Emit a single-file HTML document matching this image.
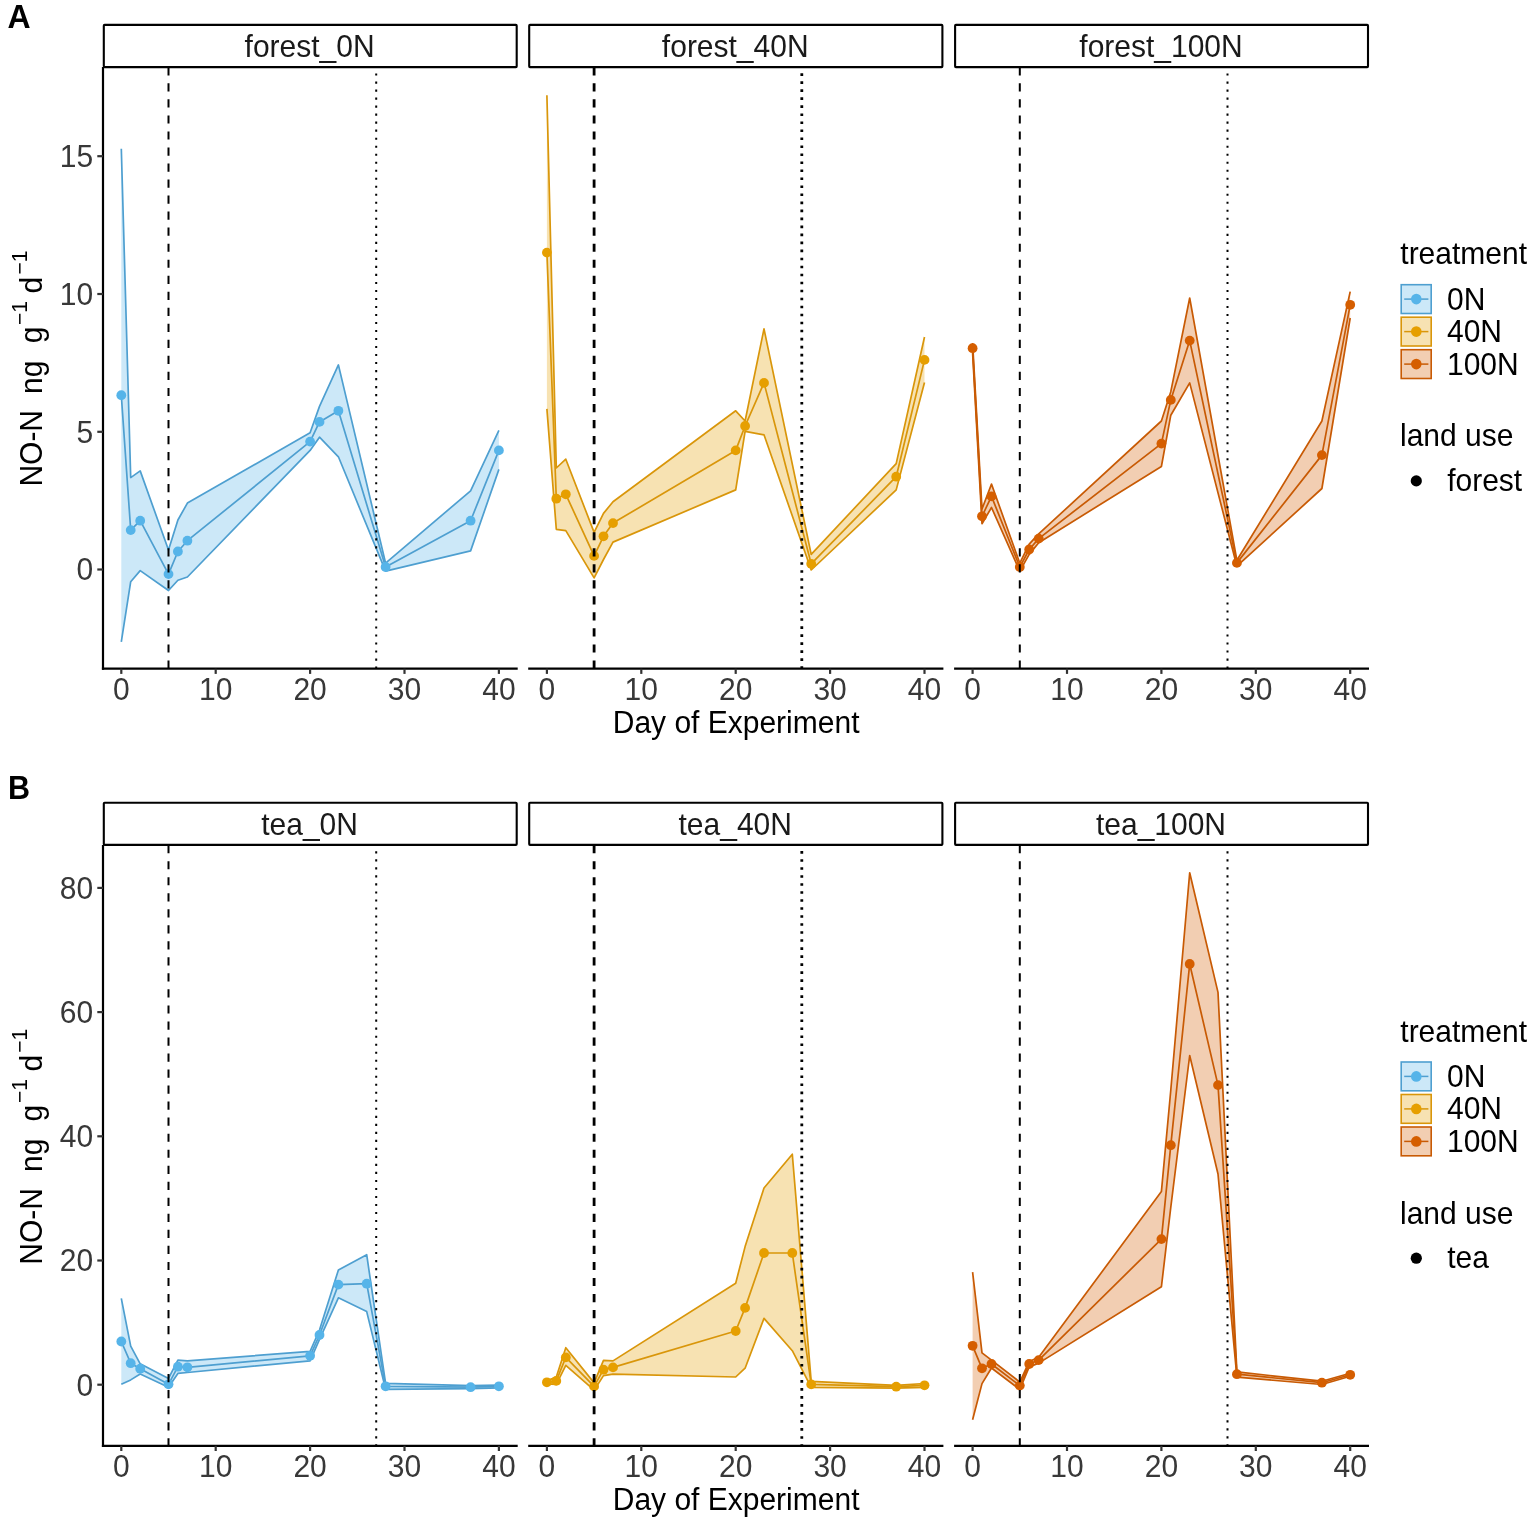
<!DOCTYPE html>
<html lang="en"><head><meta charset="utf-8"><title>NO-N flux by land use and treatment</title>
<style>html,body{margin:0;padding:0;background:#fff;overflow:hidden}svg{display:block}text{font-family:"Liberation Sans",Arial,Helvetica,sans-serif;font-size:30px}</style>
</head><body>
<svg width="1535" height="1527" viewBox="0 0 1535 1527">
<rect width="1535" height="1527" fill="#fff"/>
<text transform="translate(7.5 27.8) scale(1 1.035)" style="font-size:32px" font-weight="bold" fill="#000">A</text>
<text transform="translate(7.9 798.6) scale(1 1.07)" style="font-size:30.5px" font-weight="bold" fill="#000">B</text>
<polygon points="121.3,148.8 130.7,477.6 140.2,470.9 168.5,550 177.9,520 187.4,503.1 310.1,432.8 319.5,406.4 338.4,364.9 385.6,563.2 470.6,490.8 498.9,430.4 498.9,469.4 470.6,550.9 385.6,571.1 338.4,456.8 319.5,437.2 310.1,450.4 187.4,577 177.9,580.2 168.5,590.5 140.2,570.6 130.7,581.7 121.3,641.8" fill="#56B4E9" fill-opacity="0.3" stroke="none"/>
<polyline points="121.3,148.8 130.7,477.6 140.2,470.9 168.5,550 177.9,520 187.4,503.1 310.1,432.8 319.5,406.4 338.4,364.9 385.6,563.2 470.6,490.8 498.9,430.4" fill="none" stroke="#4E9FD0" stroke-width="1.7" stroke-linejoin="round"/>
<polyline points="121.3,641.8 130.7,581.7 140.2,570.6 168.5,590.5 177.9,580.2 187.4,577 310.1,450.4 319.5,437.2 338.4,456.8 385.6,571.1 470.6,550.9 498.9,469.4" fill="none" stroke="#4E9FD0" stroke-width="1.7" stroke-linejoin="round"/>
<polyline points="121.3,395.2 130.7,530.1 140.2,520.7 168.5,574.1 177.9,551.5 187.4,540.7 310.1,441.6 319.5,421.9 338.4,410.8 385.6,567 470.6,520.7 498.9,450.4" fill="none" stroke="#4E9FD0" stroke-width="1.7" stroke-linejoin="round"/>
<circle cx="121.3" cy="395.2" r="4.9" fill="#56B4E9"/>
<circle cx="130.7" cy="530.1" r="4.9" fill="#56B4E9"/>
<circle cx="140.2" cy="520.7" r="4.9" fill="#56B4E9"/>
<circle cx="168.5" cy="574.1" r="4.9" fill="#56B4E9"/>
<circle cx="177.9" cy="551.5" r="4.9" fill="#56B4E9"/>
<circle cx="187.4" cy="540.7" r="4.9" fill="#56B4E9"/>
<circle cx="310.1" cy="441.6" r="4.9" fill="#56B4E9"/>
<circle cx="319.5" cy="421.9" r="4.9" fill="#56B4E9"/>
<circle cx="338.4" cy="410.8" r="4.9" fill="#56B4E9"/>
<circle cx="385.6" cy="567" r="4.9" fill="#56B4E9"/>
<circle cx="470.6" cy="520.7" r="4.9" fill="#56B4E9"/>
<circle cx="498.9" cy="450.4" r="4.9" fill="#56B4E9"/>
<polygon points="546.9,95.2 556.3,468 565.8,459.2 594.1,532.4 603.5,513.4 613,501.7 735.7,410.8 745.1,421 764,328.8 811.2,554.4 896.2,463.6 924.5,337 924.5,382.5 896.2,489.9 811.2,570 764,434.8 745.1,431.3 735.7,489.9 613,542.1 603.5,559.5 594.1,577.9 565.8,530.6 556.3,529.3 546.9,408.9" fill="#E69F00" fill-opacity="0.3" stroke="none"/>
<polyline points="546.9,95.2 556.3,468 565.8,459.2 594.1,532.4 603.5,513.4 613,501.7 735.7,410.8 745.1,421 764,328.8 811.2,554.4 896.2,463.6 924.5,337" fill="none" stroke="#D9960A" stroke-width="1.7" stroke-linejoin="round"/>
<polyline points="546.9,408.9 556.3,529.3 565.8,530.6 594.1,577.9 603.5,559.5 613,542.1 735.7,489.9 745.1,431.3 764,434.8 811.2,570 896.2,489.9 924.5,382.5" fill="none" stroke="#D9960A" stroke-width="1.7" stroke-linejoin="round"/>
<polyline points="546.9,252.6 556.3,498.7 565.8,494.3 594.1,555.9 603.5,536.3 613,523.1 735.7,450.4 745.1,426 764,382.9 811.2,563.8 896.2,476.7 924.5,359.9" fill="none" stroke="#D9960A" stroke-width="1.7" stroke-linejoin="round"/>
<circle cx="546.9" cy="252.6" r="4.9" fill="#E69F00"/>
<circle cx="556.3" cy="498.7" r="4.9" fill="#E69F00"/>
<circle cx="565.8" cy="494.3" r="4.9" fill="#E69F00"/>
<circle cx="594.1" cy="555.9" r="4.9" fill="#E69F00"/>
<circle cx="603.5" cy="536.3" r="4.9" fill="#E69F00"/>
<circle cx="613" cy="523.1" r="4.9" fill="#E69F00"/>
<circle cx="735.7" cy="450.4" r="4.9" fill="#E69F00"/>
<circle cx="745.1" cy="426" r="4.9" fill="#E69F00"/>
<circle cx="764" cy="382.9" r="4.9" fill="#E69F00"/>
<circle cx="811.2" cy="563.8" r="4.9" fill="#E69F00"/>
<circle cx="896.2" cy="476.7" r="4.9" fill="#E69F00"/>
<circle cx="924.5" cy="359.9" r="4.9" fill="#E69F00"/>
<polygon points="972.6,343 982,509 991.5,484.1 1019.8,563.2 1029.2,544.2 1038.7,533.9 1161.4,421 1170.8,391.7 1189.7,298 1236.9,560.3 1321.9,421 1350.2,291.6 1350.2,318 1321.9,488.5 1236.9,566.2 1189.7,382.9 1170.8,415.2 1161.4,466.5 1038.7,542.7 1029.2,554.4 1019.8,571.1 991.5,507.5 982,523.7 972.6,353" fill="#D55E00" fill-opacity="0.3" stroke="none"/>
<polyline points="972.6,343 982,509 991.5,484.1 1019.8,563.2 1029.2,544.2 1038.7,533.9 1161.4,421 1170.8,391.7 1189.7,298 1236.9,560.3 1321.9,421 1350.2,291.6" fill="none" stroke="#C85A04" stroke-width="1.7" stroke-linejoin="round"/>
<polyline points="972.6,353 982,523.7 991.5,507.5 1019.8,571.1 1029.2,554.4 1038.7,542.7 1161.4,466.5 1170.8,415.2 1189.7,382.9 1236.9,566.2 1321.9,488.5 1350.2,318" fill="none" stroke="#C85A04" stroke-width="1.7" stroke-linejoin="round"/>
<polyline points="972.6,348.2 982,516.3 991.5,496.4 1019.8,567 1029.2,549.5 1038.7,538.6 1161.4,443.6 1170.8,399.9 1189.7,340.6 1236.9,562.9 1321.9,455.1 1350.2,304.8" fill="none" stroke="#C85A04" stroke-width="1.7" stroke-linejoin="round"/>
<circle cx="972.6" cy="348.2" r="4.9" fill="#D55E00"/>
<circle cx="982" cy="516.3" r="4.9" fill="#D55E00"/>
<circle cx="991.5" cy="496.4" r="4.9" fill="#D55E00"/>
<circle cx="1019.8" cy="567" r="4.9" fill="#D55E00"/>
<circle cx="1029.2" cy="549.5" r="4.9" fill="#D55E00"/>
<circle cx="1038.7" cy="538.6" r="4.9" fill="#D55E00"/>
<circle cx="1161.4" cy="443.6" r="4.9" fill="#D55E00"/>
<circle cx="1170.8" cy="399.9" r="4.9" fill="#D55E00"/>
<circle cx="1189.7" cy="340.6" r="4.9" fill="#D55E00"/>
<circle cx="1236.9" cy="562.9" r="4.9" fill="#D55E00"/>
<circle cx="1321.9" cy="455.1" r="4.9" fill="#D55E00"/>
<circle cx="1350.2" cy="304.8" r="4.9" fill="#D55E00"/>
<line x1="168.5" y1="67.3" x2="168.5" y2="668.7" stroke="#000" stroke-width="2" stroke-dasharray="8.2 7.83"/>
<line x1="376.2" y1="65.5" x2="376.2" y2="668.7" stroke="#000" stroke-width="2" stroke-dasharray="2.1 5.914"/>
<line x1="594.1" y1="67.3" x2="594.1" y2="668.7" stroke="#000" stroke-width="2.8" stroke-dasharray="8.2 7.83"/>
<line x1="801.8" y1="65.3" x2="801.8" y2="668.7" stroke="#000" stroke-width="2.8" stroke-dasharray="2.6 5.414"/>
<line x1="1019.8" y1="67.3" x2="1019.8" y2="668.7" stroke="#000" stroke-width="2" stroke-dasharray="8.2 7.83"/>
<line x1="1227.5" y1="65.5" x2="1227.5" y2="668.7" stroke="#000" stroke-width="2" stroke-dasharray="2.1 5.914"/>
<rect x="103.8" y="24.9" width="412.9" height="42.2" fill="#fff" stroke="#000" stroke-width="2.1" rx="0.8"/>
<text transform="translate(309.6 56.6) scale(1 1.03)" text-anchor="middle" fill="#1a1a1a">forest_0N</text>
<rect x="529.2" y="24.9" width="413.2" height="42.2" fill="#fff" stroke="#000" stroke-width="2.1" rx="0.8"/>
<text transform="translate(735.2 56.6) scale(1 1.03)" text-anchor="middle" fill="#1a1a1a">forest_40N</text>
<rect x="955.1" y="24.9" width="412.9" height="42.2" fill="#fff" stroke="#000" stroke-width="2.1" rx="0.8"/>
<text transform="translate(1161 56.6) scale(1 1.03)" text-anchor="middle" fill="#1a1a1a">forest_100N</text>
<line x1="103" y1="67.1" x2="103" y2="669.8" stroke="#000" stroke-width="2.2"/>
<line x1="101.9" y1="668.7" x2="517.7" y2="668.7" stroke="#000" stroke-width="2.2"/>
<line x1="121.3" y1="668.7" x2="121.3" y2="673.9" stroke="#333" stroke-width="2.2"/>
<text transform="translate(121.3 699.6) scale(1 1.05)" text-anchor="middle" fill="#383838">0</text>
<line x1="215.7" y1="668.7" x2="215.7" y2="673.9" stroke="#333" stroke-width="2.2"/>
<text transform="translate(215.7 699.6) scale(1 1.05)" text-anchor="middle" fill="#383838">10</text>
<line x1="310.1" y1="668.7" x2="310.1" y2="673.9" stroke="#333" stroke-width="2.2"/>
<text transform="translate(310.1 699.6) scale(1 1.05)" text-anchor="middle" fill="#383838">20</text>
<line x1="404.5" y1="668.7" x2="404.5" y2="673.9" stroke="#333" stroke-width="2.2"/>
<text transform="translate(404.5 699.6) scale(1 1.05)" text-anchor="middle" fill="#383838">30</text>
<line x1="498.9" y1="668.7" x2="498.9" y2="673.9" stroke="#333" stroke-width="2.2"/>
<text transform="translate(498.9 699.6) scale(1 1.05)" text-anchor="middle" fill="#383838">40</text>
<line x1="528.2" y1="668.7" x2="943.4" y2="668.7" stroke="#000" stroke-width="2.2"/>
<line x1="546.9" y1="668.7" x2="546.9" y2="673.9" stroke="#333" stroke-width="2.2"/>
<text transform="translate(546.9 699.6) scale(1 1.05)" text-anchor="middle" fill="#383838">0</text>
<line x1="641.3" y1="668.7" x2="641.3" y2="673.9" stroke="#333" stroke-width="2.2"/>
<text transform="translate(641.3 699.6) scale(1 1.05)" text-anchor="middle" fill="#383838">10</text>
<line x1="735.7" y1="668.7" x2="735.7" y2="673.9" stroke="#333" stroke-width="2.2"/>
<text transform="translate(735.7 699.6) scale(1 1.05)" text-anchor="middle" fill="#383838">20</text>
<line x1="830.1" y1="668.7" x2="830.1" y2="673.9" stroke="#333" stroke-width="2.2"/>
<text transform="translate(830.1 699.6) scale(1 1.05)" text-anchor="middle" fill="#383838">30</text>
<line x1="924.5" y1="668.7" x2="924.5" y2="673.9" stroke="#333" stroke-width="2.2"/>
<text transform="translate(924.5 699.6) scale(1 1.05)" text-anchor="middle" fill="#383838">40</text>
<line x1="954.1" y1="668.7" x2="1369" y2="668.7" stroke="#000" stroke-width="2.2"/>
<line x1="972.6" y1="668.7" x2="972.6" y2="673.9" stroke="#333" stroke-width="2.2"/>
<text transform="translate(972.6 699.6) scale(1 1.05)" text-anchor="middle" fill="#383838">0</text>
<line x1="1067" y1="668.7" x2="1067" y2="673.9" stroke="#333" stroke-width="2.2"/>
<text transform="translate(1067 699.6) scale(1 1.05)" text-anchor="middle" fill="#383838">10</text>
<line x1="1161.4" y1="668.7" x2="1161.4" y2="673.9" stroke="#333" stroke-width="2.2"/>
<text transform="translate(1161.4 699.6) scale(1 1.05)" text-anchor="middle" fill="#383838">20</text>
<line x1="1255.8" y1="668.7" x2="1255.8" y2="673.9" stroke="#333" stroke-width="2.2"/>
<text transform="translate(1255.8 699.6) scale(1 1.05)" text-anchor="middle" fill="#383838">30</text>
<line x1="1350.2" y1="668.7" x2="1350.2" y2="673.9" stroke="#333" stroke-width="2.2"/>
<text transform="translate(1350.2 699.6) scale(1 1.05)" text-anchor="middle" fill="#383838">40</text>
<line x1="97.3" y1="156.2" x2="103" y2="156.2" stroke="#333" stroke-width="2.2"/>
<text transform="translate(93.2 167) scale(1 1.05)" text-anchor="end" fill="#383838">15</text>
<line x1="97.3" y1="294" x2="103" y2="294" stroke="#333" stroke-width="2.2"/>
<text transform="translate(93.2 304.8) scale(1 1.05)" text-anchor="end" fill="#383838">10</text>
<line x1="97.3" y1="431.8" x2="103" y2="431.8" stroke="#333" stroke-width="2.2"/>
<text transform="translate(93.2 442.6) scale(1 1.05)" text-anchor="end" fill="#383838">5</text>
<line x1="97.3" y1="569.5" x2="103" y2="569.5" stroke="#333" stroke-width="2.2"/>
<text transform="translate(93.2 580.3) scale(1 1.05)" text-anchor="end" fill="#383838">0</text>
<text transform="translate(736.1 732.5) scale(1 1.02)" text-anchor="middle" fill="#000">Day of Experiment</text>
<text transform="translate(41.8 486.6) rotate(-90) scale(1 1.03)" fill="#000">NO-N</text>
<text transform="translate(41.8 393.9) rotate(-90) scale(1 1.03)" fill="#000">ng</text>
<text transform="translate(41.8 343.3) rotate(-90) scale(1 1.03)" fill="#000">g</text>
<text transform="translate(26.9 325) rotate(-90) scale(1 1.03)" style="font-size:21px" fill="#000">−1</text>
<text transform="translate(41.8 293.4) rotate(-90) scale(1 1.03)" fill="#000">d</text>
<text transform="translate(26.9 274.6) rotate(-90) scale(1 1.03)" style="font-size:21px" fill="#000">−1</text>
<text transform="translate(1400.3 264.2) scale(1 1.03)" fill="#000">treatment</text>
<rect x="1401.2" y="284.7" width="30" height="28.8" fill="#56B4E9" fill-opacity="0.3" stroke="none"/>
<rect x="1401.2" y="284.7" width="30" height="28.8" fill="none" stroke="#4E9FD0" stroke-width="1.6"/>
<line x1="1404.2" y1="299.1" x2="1428.4" y2="299.1" stroke="#4E9FD0" stroke-width="1.5"/>
<circle cx="1416.3" cy="299.1" r="5.3" fill="#56B4E9"/>
<text transform="translate(1447 309.5) scale(1 1.05)" fill="#000">0N</text>
<rect x="1401.2" y="317.2" width="30" height="28.8" fill="#E69F00" fill-opacity="0.3" stroke="none"/>
<rect x="1401.2" y="317.2" width="30" height="28.8" fill="none" stroke="#D9960A" stroke-width="1.6"/>
<line x1="1404.2" y1="331.6" x2="1428.4" y2="331.6" stroke="#D9960A" stroke-width="1.5"/>
<circle cx="1416.3" cy="331.6" r="5.3" fill="#E69F00"/>
<text transform="translate(1447 342.1) scale(1 1.05)" fill="#000">40N</text>
<rect x="1401.2" y="349.7" width="30" height="28.8" fill="#D55E00" fill-opacity="0.3" stroke="none"/>
<rect x="1401.2" y="349.7" width="30" height="28.8" fill="none" stroke="#C85A04" stroke-width="1.6"/>
<line x1="1404.2" y1="364.1" x2="1428.4" y2="364.1" stroke="#C85A04" stroke-width="1.5"/>
<circle cx="1416.3" cy="364.1" r="5.3" fill="#D55E00"/>
<text transform="translate(1447 374.7) scale(1 1.05)" fill="#000">100N</text>
<text transform="translate(1400 446.2) scale(1 1.03)" fill="#000">land use</text>
<circle cx="1416.3" cy="480.9" r="5.6" fill="#000"/>
<text transform="translate(1447.2 491.1) scale(1 1.03)" fill="#000">forest</text>
<g id="plotB">
<polygon points="121.3,1298.4 130.7,1346.2 140.2,1363.8 168.5,1378.4 177.9,1360.2 187.4,1360.8 310.1,1351.4 319.5,1330 338.4,1270 366.7,1254.7 385.6,1383.4 470.6,1385.7 498.9,1385.2 498.9,1387.8 470.6,1388.7 385.6,1389.3 366.7,1311.6 338.4,1297.8 319.5,1339.4 310.1,1360.8 187.4,1372.5 177.9,1373.4 168.5,1387.2 140.2,1374 130.7,1379.9 121.3,1384.3" fill="#56B4E9" fill-opacity="0.3" stroke="none"/>
<polyline points="121.3,1298.4 130.7,1346.2 140.2,1363.8 168.5,1378.4 177.9,1360.2 187.4,1360.8 310.1,1351.4 319.5,1330 338.4,1270 366.7,1254.7 385.6,1383.4 470.6,1385.7 498.9,1385.2" fill="none" stroke="#4E9FD0" stroke-width="1.7" stroke-linejoin="round"/>
<polyline points="121.3,1384.3 130.7,1379.9 140.2,1374 168.5,1387.2 177.9,1373.4 187.4,1372.5 310.1,1360.8 319.5,1339.4 338.4,1297.8 366.7,1311.6 385.6,1389.3 470.6,1388.7 498.9,1387.8" fill="none" stroke="#4E9FD0" stroke-width="1.7" stroke-linejoin="round"/>
<polyline points="121.3,1341.5 130.7,1363.2 140.2,1368.7 168.5,1384.3 177.9,1366.7 187.4,1367.3 310.1,1355.8 319.5,1335 338.4,1284.6 366.7,1283.7 385.6,1386.3 470.6,1387.2 498.9,1386.3" fill="none" stroke="#4E9FD0" stroke-width="1.7" stroke-linejoin="round"/>
<circle cx="121.3" cy="1341.5" r="4.9" fill="#56B4E9"/>
<circle cx="130.7" cy="1363.2" r="4.9" fill="#56B4E9"/>
<circle cx="140.2" cy="1368.7" r="4.9" fill="#56B4E9"/>
<circle cx="168.5" cy="1384.3" r="4.9" fill="#56B4E9"/>
<circle cx="177.9" cy="1366.7" r="4.9" fill="#56B4E9"/>
<circle cx="187.4" cy="1367.3" r="4.9" fill="#56B4E9"/>
<circle cx="310.1" cy="1355.8" r="4.9" fill="#56B4E9"/>
<circle cx="319.5" cy="1335" r="4.9" fill="#56B4E9"/>
<circle cx="338.4" cy="1284.6" r="4.9" fill="#56B4E9"/>
<circle cx="366.7" cy="1283.7" r="4.9" fill="#56B4E9"/>
<circle cx="385.6" cy="1386.3" r="4.9" fill="#56B4E9"/>
<circle cx="470.6" cy="1387.2" r="4.9" fill="#56B4E9"/>
<circle cx="498.9" cy="1386.3" r="4.9" fill="#56B4E9"/>
<polygon points="546.9,1380.9 556.3,1377 565.8,1347.7 594.1,1382.9 603.5,1360.3 613,1360.9 735.7,1283.2 745.1,1246.6 764,1188 792.3,1154.2 811.2,1381.4 896.2,1385.3 924.5,1383.5 924.5,1387.3 896.2,1388.2 811.2,1387.3 792.3,1350.7 764,1318.4 745.1,1368.2 735.7,1377 613,1374.1 603.5,1375.6 594.1,1390.2 565.8,1365.3 556.3,1384.4 546.9,1383.8" fill="#E69F00" fill-opacity="0.3" stroke="none"/>
<polyline points="546.9,1380.9 556.3,1377 565.8,1347.7 594.1,1382.9 603.5,1360.3 613,1360.9 735.7,1283.2 745.1,1246.6 764,1188 792.3,1154.2 811.2,1381.4 896.2,1385.3 924.5,1383.5" fill="none" stroke="#D9960A" stroke-width="1.7" stroke-linejoin="round"/>
<polyline points="546.9,1383.8 556.3,1384.4 565.8,1365.3 594.1,1390.2 603.5,1375.6 613,1374.1 735.7,1377 745.1,1368.2 764,1318.4 792.3,1350.7 811.2,1387.3 896.2,1388.2 924.5,1387.3" fill="none" stroke="#D9960A" stroke-width="1.7" stroke-linejoin="round"/>
<polyline points="546.9,1382.3 556.3,1380.9 565.8,1357.4 594.1,1386.4 603.5,1369.7 613,1367.4 735.7,1331 745.1,1307.9 764,1253 792.3,1253 811.2,1384.4 896.2,1386.7 924.5,1385.3" fill="none" stroke="#D9960A" stroke-width="1.7" stroke-linejoin="round"/>
<circle cx="546.9" cy="1382.3" r="4.9" fill="#E69F00"/>
<circle cx="556.3" cy="1380.9" r="4.9" fill="#E69F00"/>
<circle cx="565.8" cy="1357.4" r="4.9" fill="#E69F00"/>
<circle cx="594.1" cy="1386.4" r="4.9" fill="#E69F00"/>
<circle cx="603.5" cy="1369.7" r="4.9" fill="#E69F00"/>
<circle cx="613" cy="1367.4" r="4.9" fill="#E69F00"/>
<circle cx="735.7" cy="1331" r="4.9" fill="#E69F00"/>
<circle cx="745.1" cy="1307.9" r="4.9" fill="#E69F00"/>
<circle cx="764" cy="1253" r="4.9" fill="#E69F00"/>
<circle cx="792.3" cy="1253" r="4.9" fill="#E69F00"/>
<circle cx="811.2" cy="1384.4" r="4.9" fill="#E69F00"/>
<circle cx="896.2" cy="1386.7" r="4.9" fill="#E69F00"/>
<circle cx="924.5" cy="1385.3" r="4.9" fill="#E69F00"/>
<polygon points="972.6,1272.2 982,1352.8 991.5,1360.1 1019.8,1382.1 1029.2,1361.6 1038.7,1357.2 1161.4,1191.6 1170.8,1090 1189.7,872.8 1218,992.4 1236.9,1371.9 1321.9,1381.2 1350.2,1373.3 1350.2,1376.3 1321.9,1384.5 1236.9,1377.1 1218,1174 1189.7,1055.5 1170.8,1207.1 1161.4,1286.8 1038.7,1363.1 1029.2,1366.9 1019.8,1389.5 991.5,1368 982,1383.6 972.6,1419.7" fill="#D55E00" fill-opacity="0.3" stroke="none"/>
<polyline points="972.6,1272.2 982,1352.8 991.5,1360.1 1019.8,1382.1 1029.2,1361.6 1038.7,1357.2 1161.4,1191.6 1170.8,1090 1189.7,872.8 1218,992.4 1236.9,1371.9 1321.9,1381.2 1350.2,1373.3" fill="none" stroke="#C85A04" stroke-width="1.7" stroke-linejoin="round"/>
<polyline points="972.6,1419.7 982,1383.6 991.5,1368 1019.8,1389.5 1029.2,1366.9 1038.7,1363.1 1161.4,1286.8 1170.8,1207.1 1189.7,1055.5 1218,1174 1236.9,1377.1 1321.9,1384.5 1350.2,1376.3" fill="none" stroke="#C85A04" stroke-width="1.7" stroke-linejoin="round"/>
<polyline points="972.6,1345.8 982,1368.3 991.5,1364 1019.8,1385.6 1029.2,1364 1038.7,1360.1 1161.4,1239.1 1170.8,1145.2 1189.7,964 1218,1085.1 1236.9,1374.2 1321.9,1382.7 1350.2,1374.8" fill="none" stroke="#C85A04" stroke-width="1.7" stroke-linejoin="round"/>
<circle cx="972.6" cy="1345.8" r="4.9" fill="#D55E00"/>
<circle cx="982" cy="1368.3" r="4.9" fill="#D55E00"/>
<circle cx="991.5" cy="1364" r="4.9" fill="#D55E00"/>
<circle cx="1019.8" cy="1385.6" r="4.9" fill="#D55E00"/>
<circle cx="1029.2" cy="1364" r="4.9" fill="#D55E00"/>
<circle cx="1038.7" cy="1360.1" r="4.9" fill="#D55E00"/>
<circle cx="1161.4" cy="1239.1" r="4.9" fill="#D55E00"/>
<circle cx="1170.8" cy="1145.2" r="4.9" fill="#D55E00"/>
<circle cx="1189.7" cy="964" r="4.9" fill="#D55E00"/>
<circle cx="1218" cy="1085.1" r="4.9" fill="#D55E00"/>
<circle cx="1236.9" cy="1374.2" r="4.9" fill="#D55E00"/>
<circle cx="1321.9" cy="1382.7" r="4.9" fill="#D55E00"/>
<circle cx="1350.2" cy="1374.8" r="4.9" fill="#D55E00"/>
<line x1="168.5" y1="845.1" x2="168.5" y2="1445.8" stroke="#000" stroke-width="2" stroke-dasharray="8.2 7.83"/>
<line x1="376.2" y1="843.3" x2="376.2" y2="1445.8" stroke="#000" stroke-width="2" stroke-dasharray="2.1 5.914"/>
<line x1="594.1" y1="845.1" x2="594.1" y2="1445.8" stroke="#000" stroke-width="2.8" stroke-dasharray="8.2 7.83"/>
<line x1="801.8" y1="843.1" x2="801.8" y2="1445.8" stroke="#000" stroke-width="2.8" stroke-dasharray="2.6 5.414"/>
<line x1="1019.8" y1="845.1" x2="1019.8" y2="1445.8" stroke="#000" stroke-width="2" stroke-dasharray="8.2 7.83"/>
<line x1="1227.5" y1="843.3" x2="1227.5" y2="1445.8" stroke="#000" stroke-width="2" stroke-dasharray="2.1 5.914"/>
<rect x="103.8" y="802.7" width="412.9" height="42.2" fill="#fff" stroke="#000" stroke-width="2.1" rx="0.8"/>
<text transform="translate(309.6 834.5) scale(1 1.03)" text-anchor="middle" fill="#1a1a1a">tea_0N</text>
<rect x="529.2" y="802.7" width="413.2" height="42.2" fill="#fff" stroke="#000" stroke-width="2.1" rx="0.8"/>
<text transform="translate(735.2 834.5) scale(1 1.03)" text-anchor="middle" fill="#1a1a1a">tea_40N</text>
<rect x="955.1" y="802.7" width="412.9" height="42.2" fill="#fff" stroke="#000" stroke-width="2.1" rx="0.8"/>
<text transform="translate(1161 834.5) scale(1 1.03)" text-anchor="middle" fill="#1a1a1a">tea_100N</text>
<line x1="103" y1="844.9" x2="103" y2="1446.9" stroke="#000" stroke-width="2.2"/>
<line x1="101.9" y1="1445.8" x2="517.7" y2="1445.8" stroke="#000" stroke-width="2.2"/>
<line x1="121.3" y1="1445.8" x2="121.3" y2="1451" stroke="#333" stroke-width="2.2"/>
<text transform="translate(121.3 1476.9) scale(1 1.05)" text-anchor="middle" fill="#383838">0</text>
<line x1="215.7" y1="1445.8" x2="215.7" y2="1451" stroke="#333" stroke-width="2.2"/>
<text transform="translate(215.7 1476.9) scale(1 1.05)" text-anchor="middle" fill="#383838">10</text>
<line x1="310.1" y1="1445.8" x2="310.1" y2="1451" stroke="#333" stroke-width="2.2"/>
<text transform="translate(310.1 1476.9) scale(1 1.05)" text-anchor="middle" fill="#383838">20</text>
<line x1="404.5" y1="1445.8" x2="404.5" y2="1451" stroke="#333" stroke-width="2.2"/>
<text transform="translate(404.5 1476.9) scale(1 1.05)" text-anchor="middle" fill="#383838">30</text>
<line x1="498.9" y1="1445.8" x2="498.9" y2="1451" stroke="#333" stroke-width="2.2"/>
<text transform="translate(498.9 1476.9) scale(1 1.05)" text-anchor="middle" fill="#383838">40</text>
<line x1="528.2" y1="1445.8" x2="943.4" y2="1445.8" stroke="#000" stroke-width="2.2"/>
<line x1="546.9" y1="1445.8" x2="546.9" y2="1451" stroke="#333" stroke-width="2.2"/>
<text transform="translate(546.9 1476.9) scale(1 1.05)" text-anchor="middle" fill="#383838">0</text>
<line x1="641.3" y1="1445.8" x2="641.3" y2="1451" stroke="#333" stroke-width="2.2"/>
<text transform="translate(641.3 1476.9) scale(1 1.05)" text-anchor="middle" fill="#383838">10</text>
<line x1="735.7" y1="1445.8" x2="735.7" y2="1451" stroke="#333" stroke-width="2.2"/>
<text transform="translate(735.7 1476.9) scale(1 1.05)" text-anchor="middle" fill="#383838">20</text>
<line x1="830.1" y1="1445.8" x2="830.1" y2="1451" stroke="#333" stroke-width="2.2"/>
<text transform="translate(830.1 1476.9) scale(1 1.05)" text-anchor="middle" fill="#383838">30</text>
<line x1="924.5" y1="1445.8" x2="924.5" y2="1451" stroke="#333" stroke-width="2.2"/>
<text transform="translate(924.5 1476.9) scale(1 1.05)" text-anchor="middle" fill="#383838">40</text>
<line x1="954.1" y1="1445.8" x2="1369" y2="1445.8" stroke="#000" stroke-width="2.2"/>
<line x1="972.6" y1="1445.8" x2="972.6" y2="1451" stroke="#333" stroke-width="2.2"/>
<text transform="translate(972.6 1476.9) scale(1 1.05)" text-anchor="middle" fill="#383838">0</text>
<line x1="1067" y1="1445.8" x2="1067" y2="1451" stroke="#333" stroke-width="2.2"/>
<text transform="translate(1067 1476.9) scale(1 1.05)" text-anchor="middle" fill="#383838">10</text>
<line x1="1161.4" y1="1445.8" x2="1161.4" y2="1451" stroke="#333" stroke-width="2.2"/>
<text transform="translate(1161.4 1476.9) scale(1 1.05)" text-anchor="middle" fill="#383838">20</text>
<line x1="1255.8" y1="1445.8" x2="1255.8" y2="1451" stroke="#333" stroke-width="2.2"/>
<text transform="translate(1255.8 1476.9) scale(1 1.05)" text-anchor="middle" fill="#383838">30</text>
<line x1="1350.2" y1="1445.8" x2="1350.2" y2="1451" stroke="#333" stroke-width="2.2"/>
<text transform="translate(1350.2 1476.9) scale(1 1.05)" text-anchor="middle" fill="#383838">40</text>
<line x1="97.3" y1="887.9" x2="103" y2="887.9" stroke="#333" stroke-width="2.2"/>
<text transform="translate(93.2 898.7) scale(1 1.05)" text-anchor="end" fill="#383838">80</text>
<line x1="97.3" y1="1012.1" x2="103" y2="1012.1" stroke="#333" stroke-width="2.2"/>
<text transform="translate(93.2 1022.9) scale(1 1.05)" text-anchor="end" fill="#383838">60</text>
<line x1="97.3" y1="1136.3" x2="103" y2="1136.3" stroke="#333" stroke-width="2.2"/>
<text transform="translate(93.2 1147.1) scale(1 1.05)" text-anchor="end" fill="#383838">40</text>
<line x1="97.3" y1="1260.5" x2="103" y2="1260.5" stroke="#333" stroke-width="2.2"/>
<text transform="translate(93.2 1271.3) scale(1 1.05)" text-anchor="end" fill="#383838">20</text>
<line x1="97.3" y1="1384.7" x2="103" y2="1384.7" stroke="#333" stroke-width="2.2"/>
<text transform="translate(93.2 1395.5) scale(1 1.05)" text-anchor="end" fill="#383838">0</text>
<text transform="translate(736.1 1509.8) scale(1 1.02)" text-anchor="middle" fill="#000">Day of Experiment</text>
<text transform="translate(41.8 1264.7) rotate(-90) scale(1 1.03)" fill="#000">NO-N</text>
<text transform="translate(41.8 1172) rotate(-90) scale(1 1.03)" fill="#000">ng</text>
<text transform="translate(41.8 1121.4) rotate(-90) scale(1 1.03)" fill="#000">g</text>
<text transform="translate(26.9 1103.1) rotate(-90) scale(1 1.03)" style="font-size:21px" fill="#000">−1</text>
<text transform="translate(41.8 1071.5) rotate(-90) scale(1 1.03)" fill="#000">d</text>
<text transform="translate(26.9 1052.7) rotate(-90) scale(1 1.03)" style="font-size:21px" fill="#000">−1</text>
<text transform="translate(1400.3 1041.5) scale(1 1.03)" fill="#000">treatment</text>
<rect x="1401.2" y="1062" width="30" height="28.8" fill="#56B4E9" fill-opacity="0.3" stroke="none"/>
<rect x="1401.2" y="1062" width="30" height="28.8" fill="none" stroke="#4E9FD0" stroke-width="1.6"/>
<line x1="1404.2" y1="1076.4" x2="1428.4" y2="1076.4" stroke="#4E9FD0" stroke-width="1.5"/>
<circle cx="1416.3" cy="1076.4" r="5.3" fill="#56B4E9"/>
<text transform="translate(1447 1086.8) scale(1 1.05)" fill="#000">0N</text>
<rect x="1401.2" y="1094.5" width="30" height="28.8" fill="#E69F00" fill-opacity="0.3" stroke="none"/>
<rect x="1401.2" y="1094.5" width="30" height="28.8" fill="none" stroke="#D9960A" stroke-width="1.6"/>
<line x1="1404.2" y1="1108.9" x2="1428.4" y2="1108.9" stroke="#D9960A" stroke-width="1.5"/>
<circle cx="1416.3" cy="1108.9" r="5.3" fill="#E69F00"/>
<text transform="translate(1447 1119.4) scale(1 1.05)" fill="#000">40N</text>
<rect x="1401.2" y="1127" width="30" height="28.8" fill="#D55E00" fill-opacity="0.3" stroke="none"/>
<rect x="1401.2" y="1127" width="30" height="28.8" fill="none" stroke="#C85A04" stroke-width="1.6"/>
<line x1="1404.2" y1="1141.4" x2="1428.4" y2="1141.4" stroke="#C85A04" stroke-width="1.5"/>
<circle cx="1416.3" cy="1141.4" r="5.3" fill="#D55E00"/>
<text transform="translate(1447 1152) scale(1 1.05)" fill="#000">100N</text>
<text transform="translate(1400 1223.5) scale(1 1.03)" fill="#000">land use</text>
<circle cx="1416.3" cy="1258.2" r="5.6" fill="#000"/>
<text transform="translate(1447.2 1268.4) scale(1 1.03)" fill="#000">tea</text>
</g>
</svg></body></html>
